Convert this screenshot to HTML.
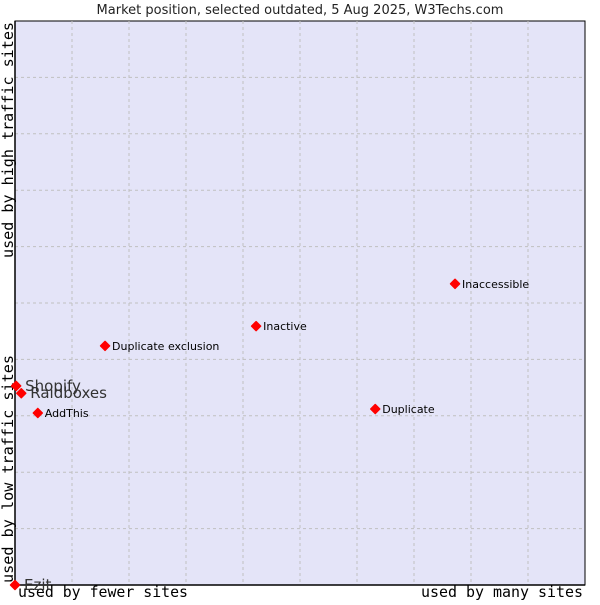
<!DOCTYPE html>
<html><head><meta charset="utf-8"><style>
body{margin:0;background:#fff;}
svg text{font-family:"DejaVu Sans","Liberation Sans",sans-serif;}
</style></head><body>
<svg width="600" height="600" id="c">
<text x="300" y="14" text-anchor="middle" font-size="13" fill="#222">Market position, selected outdated, 5 Aug 2025, W3Techs.com</text>
<rect x="15" y="21" width="570" height="564" fill="#e4e4f8" stroke="#000" stroke-width="1"/>
<g id="grid"></g>
<line x1="15" y1="21" x2="15" y2="585" stroke="#000" stroke-width="1.5"/>
<line x1="15" y1="585" x2="585" y2="585" stroke="#000" stroke-width="1.5"/>
<text x="18" y="597" font-size="15" textLength="170" lengthAdjust="spacingAndGlyphs" fill="#000" style="font-family:'DejaVu Sans Mono',monospace">used by fewer sites</text>
<text x="421" y="597" font-size="15" textLength="162" lengthAdjust="spacingAndGlyphs" fill="#000" style="font-family:'DejaVu Sans Mono',monospace">used by many sites</text>
<text transform="translate(13,583) rotate(-90)" font-size="15" textLength="228" lengthAdjust="spacingAndGlyphs" fill="#000" style="font-family:'DejaVu Sans Mono',monospace">used by low traffic sites</text>
<text transform="translate(13,258) rotate(-90)" font-size="15" textLength="236" lengthAdjust="spacingAndGlyphs" fill="#000" style="font-family:'DejaVu Sans Mono',monospace">used by high traffic sites</text>
<g id="pts"></g>
</svg>
<script>
const names=["Shopify","Raidboxes","AddThis","Ezit","Duplicate exclusion","Inactive","Inaccessible","Duplicate"];
const xs=[0.2,1.1,4.0,0,15.8,42.3,77.2,63.2];
const ys=[35.3,34.0,30.5,0,42.4,45.9,53.4,31.2];
const big=[true,true,false,true,false,false,false,false];
const X0=15,W=570,Y0=585,H=564;
const sx=v=>X0+v/100*W, sy=v=>Y0-v/100*H;
const ns="http://www.w3.org/2000/svg";
const g=document.getElementById('grid');
for(let i=1;i<10;i++){
 const l=document.createElementNS(ns,'line');
 
 
 const x=X0+i*W/10;l.setAttribute('x1',x);l.setAttribute('x2',x);l.setAttribute('y1',21);l.setAttribute('y2',585);
 l.setAttribute('stroke','#c0c0c0');l.setAttribute('stroke-dasharray','3,3');g.appendChild(l);
 const h=document.createElementNS(ns,'line');
 
 
 const y=Y0-i*H/10;h.setAttribute('x1',15);h.setAttribute('x2',585);h.setAttribute('y1',y);h.setAttribute('y2',y);
 h.setAttribute('stroke','#c0c0c0');h.setAttribute('stroke-dasharray','3,3');g.appendChild(h);
}
const p=document.getElementById('pts');
names.forEach((n,i)=>{
 const x=sx(xs[i]),y=sy(ys[i]);
 const c=document.createElementNS(ns,'path');
 
 
 c.setAttribute('d',`M${x-4.5},${y}L${x},${y-4.5}L${x+4.5},${y}L${x},${y+4.5}Z`);
 c.setAttribute('fill','#f00');c.setAttribute('stroke','#f00');c.setAttribute('stroke-linejoin','round');c.setAttribute('stroke-width','1.5');p.appendChild(c);
 const t=document.createElementNS(ns,'text');
 
 
 t.setAttribute('x',x+(big[i]?9:7));t.setAttribute('y',y+(big[i]?5:4));
 t.setAttribute('font-size',big[i]?15:11);t.setAttribute('fill',big[i]?'#333':'#000');
 t.textContent=n;p.appendChild(t);
});
</script>
</body></html>
